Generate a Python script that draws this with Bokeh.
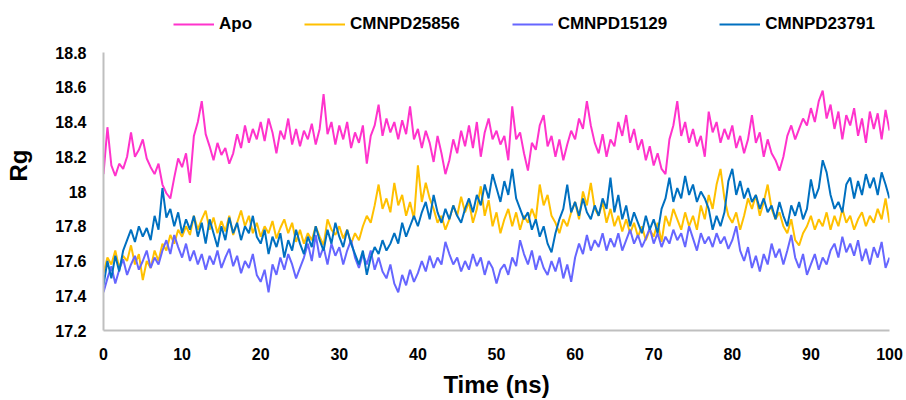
import numpy as np
from bokeh.plotting import figure
from bokeh.models import Legend, LegendItem, FixedTicker, Range1d
from bokeh.embed import file_html
from bokeh.resources import INLINE

apo = [
    18.10, 18.37, 18.15, 18.09, 18.16, 18.13, 18.20, 18.34, 18.20, 18.24, 18.30, 18.19, 18.14, 18.10, 18.16, 18.04, 17.99, 17.96, 18.08, 18.19,
    18.14, 18.22, 18.05, 18.32, 18.40, 18.52, 18.33, 18.26, 18.18, 18.28, 18.21, 18.25, 18.16, 18.22, 18.33, 18.25, 18.38, 18.28, 18.36, 18.30,
    18.40, 18.29, 18.42, 18.34, 18.22, 18.35, 18.30, 18.42, 18.27, 18.36, 18.26, 18.35, 18.30, 18.39, 18.27, 18.36, 18.56, 18.33, 18.40, 18.27,
    18.38, 18.30, 18.40, 18.25, 18.34, 18.28, 18.38, 18.16, 18.32, 18.38, 18.50, 18.32, 18.42, 18.34, 18.40, 18.30, 18.41, 18.33, 18.49, 18.30,
    18.36, 18.25, 18.35, 18.28, 18.17, 18.32, 18.22, 18.10, 18.18, 18.30, 18.22, 18.35, 18.26, 18.38, 18.25, 18.40, 18.20, 18.34, 18.42, 18.30,
    18.35, 18.27, 18.32, 18.18, 18.49, 18.30, 18.34, 18.22, 18.12, 18.28, 18.24, 18.38, 18.44, 18.26, 18.32, 18.20, 18.30, 18.18, 18.27, 18.35,
    18.30, 18.42, 18.36, 18.52, 18.38, 18.28, 18.22, 18.33, 18.20, 18.30, 18.26, 18.40, 18.32, 18.44, 18.28, 18.36, 18.24, 18.30, 18.18, 18.26,
    18.15, 18.22, 18.13, 18.10, 18.30, 18.38, 18.52, 18.32, 18.40, 18.28, 18.36, 18.26, 18.32, 18.20, 18.46, 18.34, 18.40, 18.28, 18.36, 18.30,
    18.38, 18.25, 18.32, 18.22, 18.30, 18.44, 18.28, 18.34, 18.20, 18.30, 18.22, 18.18, 18.12, 18.20, 18.32, 18.38, 18.30, 18.36, 18.42, 18.38,
    18.48, 18.40, 18.52, 18.58, 18.42, 18.50, 18.36, 18.46, 18.30, 18.44, 18.38, 18.48, 18.32, 18.42, 18.28, 18.46, 18.36, 18.45, 18.30, 18.47,
    18.35,
]
cmnpd25856 = [
    17.53, 17.62, 17.58, 17.66, 17.56, 17.63, 17.60, 17.69, 17.58, 17.64, 17.49, 17.60, 17.56, 17.66, 17.60, 17.70, 17.66, 17.75, 17.70, 17.78,
    17.74, 17.80, 17.75, 17.86, 17.78, 17.84, 17.89, 17.78, 17.85, 17.76, 17.83, 17.77, 17.86, 17.75, 17.82, 17.89, 17.80, 17.86, 17.76, 17.82,
    17.74, 17.80, 17.76, 17.83, 17.73, 17.79, 17.84, 17.76, 17.82, 17.71, 17.78, 17.70, 17.76, 17.72, 17.80, 17.74, 17.69, 17.84, 17.78, 17.75,
    17.80, 17.73, 17.78, 17.70, 17.76, 17.72, 17.80, 17.86, 17.82, 17.92, 18.04, 17.90, 17.96, 17.88, 18.05, 17.92, 17.98, 17.86, 17.94, 17.84,
    18.15, 17.94, 18.05, 17.96, 17.90, 17.82, 17.86, 17.78, 17.84, 17.92, 17.86, 17.97, 17.88, 17.94, 17.82, 17.90, 18.03, 17.86, 17.95, 17.80,
    17.88, 17.76, 17.84, 17.90, 17.80, 17.88, 17.78, 17.86, 17.82, 17.90, 17.84, 18.04, 17.92, 17.98, 17.86, 17.82, 17.76, 17.84, 17.80, 17.88,
    17.94, 17.84, 18.00, 17.92, 18.05, 17.90, 17.86, 17.94, 17.82, 17.90, 17.80, 17.86, 17.77, 17.84, 17.76, 17.82, 17.74, 17.80, 17.72, 17.78,
    17.74, 17.82, 17.71, 17.86, 17.80, 17.90, 17.84, 17.78, 17.88, 17.80, 17.86, 17.78, 17.92, 17.84, 17.98, 17.90, 18.04, 18.13, 17.96, 17.86,
    17.82, 17.88, 17.78, 17.86, 17.96, 17.90, 17.98, 17.86, 17.94, 18.04, 17.90, 17.84, 17.88, 17.80, 17.76, 17.84, 17.72, 17.69, 17.76, 17.80,
    17.86, 17.78, 17.84, 17.80, 17.88, 17.78, 17.86, 17.80, 17.90, 17.82, 17.86, 17.78, 17.84, 17.88, 17.80, 17.86, 17.82, 17.90, 17.84, 17.96,
    17.82,
]
cmnpd15129 = [
    17.42, 17.50, 17.57, 17.47, 17.55, 17.61, 17.52, 17.58, 17.63, 17.55, 17.60, 17.66, 17.56, 17.62, 17.58, 17.66, 17.72, 17.64, 17.75, 17.68,
    17.62, 17.70, 17.60, 17.66, 17.58, 17.64, 17.55, 17.63, 17.58, 17.66, 17.56, 17.62, 17.67, 17.57, 17.63, 17.53, 17.60, 17.56, 17.64, 17.52,
    17.48, 17.55, 17.42, 17.58, 17.52, 17.62, 17.55, 17.64, 17.58, 17.50, 17.56, 17.62, 17.70, 17.60, 17.75, 17.62, 17.68, 17.58, 17.70, 17.63,
    17.68, 17.58, 17.66, 17.72, 17.62, 17.56, 17.64, 17.58, 17.66, 17.55, 17.62, 17.54, 17.50, 17.58, 17.47, 17.42, 17.52, 17.46, 17.55, 17.48,
    17.53, 17.60, 17.54, 17.63, 17.56, 17.62, 17.58, 17.71, 17.64, 17.58, 17.62, 17.54, 17.60, 17.55, 17.64, 17.57, 17.62, 17.52, 17.60, 17.56,
    17.47, 17.55, 17.58, 17.52, 17.62, 17.57, 17.72, 17.64, 17.58, 17.66, 17.55, 17.63, 17.56, 17.52, 17.60, 17.54, 17.62, 17.50, 17.58, 17.48,
    17.62, 17.70, 17.64, 17.75, 17.66, 17.72, 17.68, 17.76, 17.66, 17.73, 17.68, 17.76, 17.66, 17.72, 17.78, 17.70, 17.75, 17.68, 17.73, 17.79,
    17.70, 17.76, 17.68, 17.74, 17.70, 17.78, 17.72, 17.76, 17.68, 17.80, 17.73, 17.66, 17.76, 17.70, 17.74, 17.68, 17.76, 17.70, 17.74, 17.67,
    17.72, 17.80, 17.66, 17.60, 17.68, 17.56, 17.63, 17.54, 17.64, 17.58, 17.70, 17.62, 17.67, 17.58, 17.66, 17.75, 17.62, 17.56, 17.64, 17.52,
    17.58, 17.64, 17.55, 17.62, 17.58, 17.66, 17.70, 17.62, 17.74, 17.65, 17.70, 17.63, 17.72, 17.60, 17.67, 17.58, 17.68, 17.62, 17.71, 17.56,
    17.62,
]
cmnpd23791 = [
    17.46, 17.60, 17.50, 17.63, 17.54, 17.66, 17.72, 17.78, 17.71, 17.80, 17.74, 17.79, 17.72, 17.86, 17.78, 18.02, 17.85, 17.90, 17.80, 17.88,
    17.76, 17.84, 17.78, 17.86, 17.74, 17.82, 17.70, 17.84, 17.76, 17.68, 17.80, 17.72, 17.85, 17.76, 17.82, 17.72, 17.80, 17.76, 17.86, 17.74,
    17.70, 17.78, 17.64, 17.74, 17.68, 17.76, 17.62, 17.72, 17.66, 17.78, 17.70, 17.64, 17.74, 17.68, 17.80, 17.72, 17.66, 17.78, 17.70, 17.82,
    17.74, 17.68, 17.78, 17.70, 17.64, 17.58, 17.66, 17.52, 17.62, 17.68, 17.64, 17.72, 17.66, 17.70, 17.76, 17.70, 17.82, 17.74, 17.80, 17.86,
    17.80, 17.88, 17.94, 17.84, 17.98, 17.88, 17.82, 17.90, 17.84, 17.92, 17.86, 17.82, 17.90, 17.96, 17.88, 17.98, 17.92, 18.04, 17.96, 18.10,
    18.02, 17.94, 18.06, 17.98, 18.13, 17.96, 17.90, 17.84, 17.88, 17.78, 17.84, 17.74, 17.80, 17.70, 17.65, 17.76, 17.84, 17.90, 18.04, 17.88,
    17.94, 17.86, 17.96, 17.88, 17.84, 17.92, 17.86, 17.96, 17.90, 18.08, 17.88, 17.98, 17.84, 17.92, 17.80, 17.88, 17.82, 17.76, 17.86, 17.78,
    17.84, 17.76, 17.90, 17.96, 18.08, 17.94, 18.02, 17.96, 18.09, 17.98, 18.04, 17.94, 18.00, 17.96, 17.90, 17.78, 17.86, 17.80, 17.88, 18.06,
    18.13, 17.98, 18.06, 17.96, 18.02, 17.94, 17.98, 17.90, 17.96, 17.88, 17.92, 17.84, 17.94, 17.86, 17.80, 17.92, 17.86, 17.94, 17.84, 17.90,
    18.07, 17.96, 18.02, 18.18, 18.11, 17.98, 17.90, 17.94, 17.88, 18.04, 18.08, 17.96, 18.06, 17.98, 18.10, 18.02, 18.08, 17.98, 18.11, 18.04,
    17.96,
]
time_step_ns = 0.5

series_names = ["Apo", "CMNPD25856", "CMNPD15129", "CMNPD23791"]
series_values = [apo, cmnpd25856, cmnpd15129, cmnpd23791]
series_colors = ["#FF33CC", "#FFC000", "#6666FF", "#0070C0"]

x_ticks = [0, 10, 20, 30, 40, 50, 60, 70, 80, 90, 100]
y_ticks = [17.2, 17.4, 17.6, 17.8, 18.0, 18.2, 18.4, 18.6, 18.8]
y_tick_labels = ["17.2", "17.4", "17.6", "17.8", "18", "18.2", "18.4", "18.6", "18.8"]
y_min, y_max = 17.2, 18.8

FONT = "Liberation Sans"
W, H = 906, 400
LEFT, RIGHT, BOTTOM = 103, 17, 70
AXIS_TOP_GAP = 52            # room above the 18.8 tick for the legend
frame_h = H - BOTTOM
# extend the range upward so the legend can live inside the frame above 18.8
y_top = y_max + (y_max - y_min) * AXIS_TOP_GAP / (frame_h - AXIS_TOP_GAP)

p = figure(width=W, height=H, output_backend="svg", toolbar_location=None,
           x_range=Range1d(0, 100), y_range=Range1d(y_min, y_top),
           min_border_left=LEFT, min_border_right=RIGHT, min_border_top=0,
           min_border_bottom=BOTTOM)
p.outline_line_color = None
p.xgrid.visible = False
p.ygrid.visible = False
p.background_fill_color = "white"
p.border_fill_color = "white"

renderers = []
for name, vals, col in zip(series_names, series_values, series_colors):
    t = np.arange(len(vals)) * time_step_ns
    r = p.line(t, vals, line_color=col, line_width=2)
    renderers.append((name, r))

for ax in (p.xaxis[0], p.yaxis[0]):
    ax.axis_line_color = "#BFBFBF"
    ax.axis_line_width = 2
    ax.major_tick_line_color = None
    ax.minor_tick_line_color = None
    ax.major_tick_out = 0
    ax.major_tick_in = 0
    ax.minor_tick_out = 0
    ax.major_label_text_font = FONT
    ax.major_label_text_font_style = "bold"
    ax.major_label_text_font_size = "16px"
    ax.major_label_text_color = "black"
    ax.axis_label_text_font = FONT
    ax.axis_label_text_font_style = "bold"
    ax.axis_label_text_color = "black"
    ax.axis_label_text_font_size = "24px"

p.xaxis.ticker = FixedTicker(ticks=x_ticks)
p.yaxis.ticker = FixedTicker(ticks=y_ticks)
p.yaxis.bounds = (y_min, y_max)
p.yaxis.major_label_overrides = {v: s for v, s in zip(y_ticks, y_tick_labels)}
p.xaxis.major_label_standoff = 17
p.yaxis.major_label_standoff = 17
p.xaxis.axis_label = "Time (ns)"
p.yaxis.axis_label = "Rg"
p.xaxis.axis_label_standoff = 8
p.yaxis.axis_label_standoff = 20

legend = Legend(items=[LegendItem(label=n, renderers=[r]) for n, r in renderers],
                orientation="horizontal", location=(70, frame_h - 34),
                label_text_font=FONT, label_text_font_style="bold",
                label_text_font_size="17px", label_text_color="black",
                glyph_width=41, glyph_height=20, label_standoff=5,
                spacing=52, padding=0, margin=0,
                background_fill_alpha=0, border_line_color=None)
p.add_layout(legend)

open("out.html", "w").write(file_html(p, INLINE))
